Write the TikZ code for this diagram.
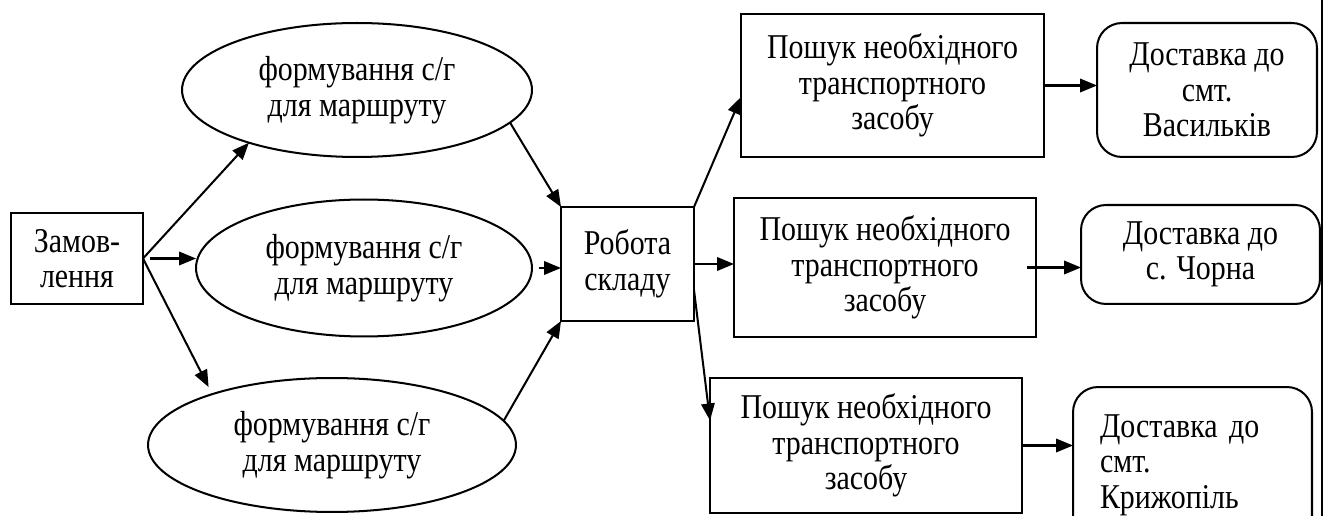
\documentclass[tikz,border=0pt]{standalone}
\usepackage{fontspec}
\setmainfont{Liberation Serif}[FakeStretch=0.86]
\usetikzlibrary{arrows.meta, shapes.geometric}

\tikzset{
  box/.style={draw, inner sep=0pt, outer sep=0pt, align=center},
  oval/.style={ellipse, draw, inner sep=0pt, outer sep=0pt, align=center},
  dest/.style={box, rounded corners=0.5cm},
}

\begin{document}
\begin{tikzpicture}[x=0.02cm, y=-0.02cm, line width=1.15pt,
  >={Triangle[length=0.34cm, width=0.27cm]},
  font=\fontsize{19.8}{20.2}\selectfont]
  \useasboundingbox (0,0) rectangle (1325,516);

  % Order
  \node[box, minimum width=2.64cm, minimum height=1.82cm] (zam) at (77,258.5)
    {Замов-\\лення};

  % Forming cargo for the routes
  \node[oval, minimum width=7cm, minimum height=2.68cm] (e1) at (357,90)
    {формування с/г\\для маршруту};
  \node[oval, minimum width=6.72cm, minimum height=2.74cm] (e2) at (364,268)
    {формування с/г\\для маршруту};
  \node[oval, minimum width=7.36cm, minimum height=2.68cm] (e3) at (332,445)
    {формування с/г\\для маршруту};

  % Warehouse
  \node[box, minimum width=2.66cm, minimum height=2.28cm] (rob) at (627.5,264)
    {Робота\\складу};

  % Transport search
  \node[box, minimum width=6.06cm, minimum height=2.86cm] (t1) at (892.5,85.5)
    {Пошук необхідного\\транспортного\\засобу};
  \node[box, minimum width=6.04cm, minimum height=2.78cm] (t2) at (885,267.5)
    {Пошук необхідного\\транспортного\\засобу};
  \node[box, minimum width=6.24cm, minimum height=2.7cm] (t3) at (866,445.5)
    {Пошук необхідного\\транспортного\\засобу};

  % Delivery
  \node[dest, minimum width=4.4cm, minimum height=2.68cm] (d1) at (1207,90)
    {Доставка до\\смт.\\Васильків};
  \node[dest, minimum width=4.78cm, minimum height=1.98cm] (d2) at (1200.5,254.5)
    {Доставка до\\с. Чорна};
  \node[dest, text width=3.7cm, inner xsep=0.54cm, align=left,
    minimum height=3.12cm] (d3) at (1192.5,465)
    {Доставка до\\смт.\\Крижопіль};

  % Page edge
  \draw (1322,0) -- (1322,516);

  % Connectors
  \draw[->] (zam.east) -- (e1.206);
  \draw[->] ([xshift=0.14cm]zam.east) -- (e2.west |- zam.east);
  \draw[->, shorten >=0.16cm] (zam.east) -- (e3.157);

  \draw[->] (e1.-12) -- (rob.north west);
  \draw[->] ([xshift=0.14cm]e2.east) -- (e2.east -| rob.west);
  \draw[->] (e3.8) -- (rob.south west);

  \draw[->] (rob.north east) -- ([yshift=-0.23cm]t1.west);
  \draw[->] (rob.east) -- (rob.east -| t2.west);
  \draw[->] ([yshift=-0.52cm]rob.east) -- ([yshift=0.5cm]t3.west);

  \draw[->] (t1.east) -- (t1.east -| d1.west);
  \draw[->] ([xshift=-0.18cm]t2.east) -- (t2.east -| d2.west);
  \draw[->] (t3.east) -- (t3.east -| d3.west);
\end{tikzpicture}
\end{document}
